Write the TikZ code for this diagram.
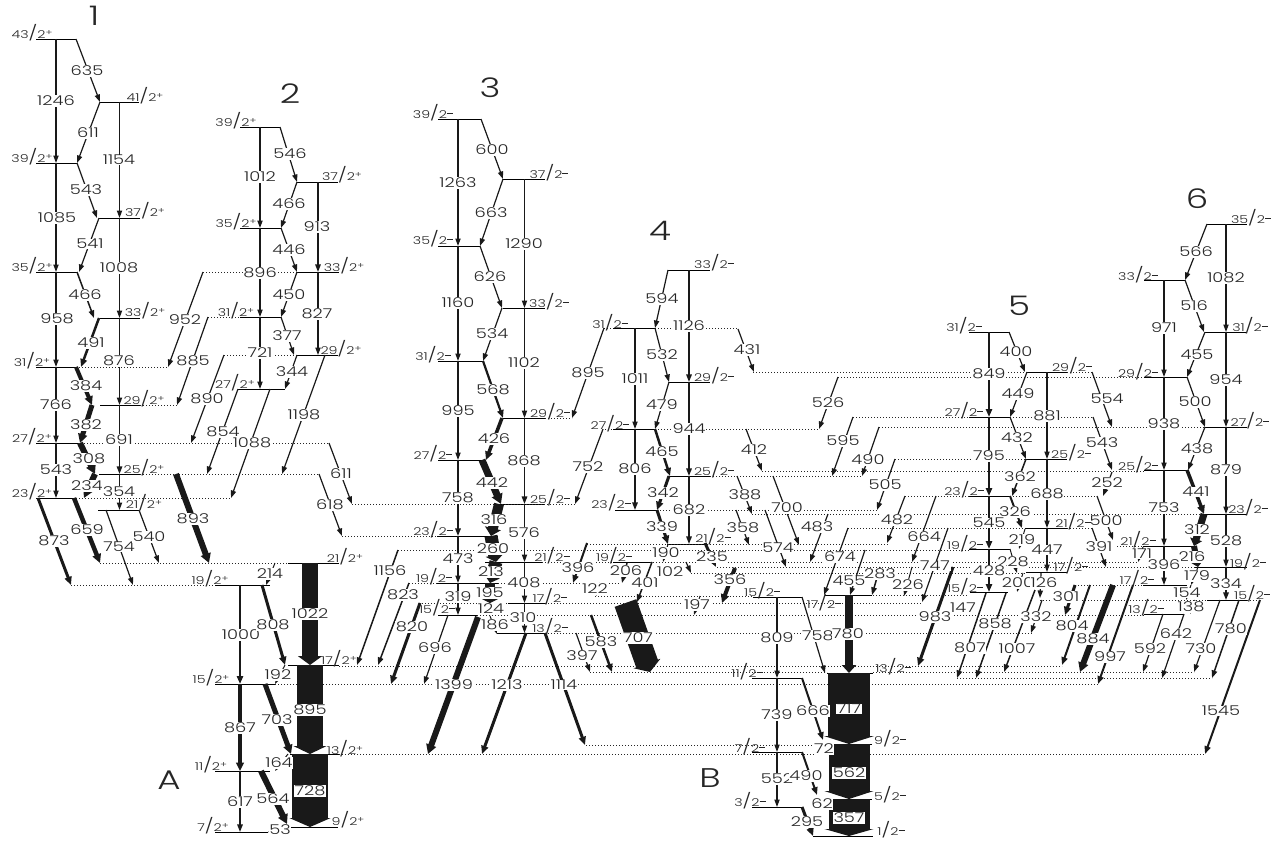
\documentclass[tikz,border=0pt]{standalone}
\usepackage{fontspec}
\setmainfont{Poppins}[UprightFont=* Light,FakeStretch=1.32]
\usetikzlibrary{arrows.meta,calc}
\newcounter{gc}\newcounter{lc}\newcounter{tc}
\tikzset{
 gamline/.style={draw=black!90,line cap=butt},
 glab/.style={fill=white,inner sep=0.6pt,font=\fontsize{13.5}{13.5}\selectfont,text=black!85},
 slab/.style={inner sep=0pt,font=\fontsize{10.8}{10.8}\selectfont,text=black!85},
 blab/.style={inner sep=0pt,font=\fontsize{27}{27}\selectfont,text=black!85},
 solidlvl/.style={draw=black,line width=0.9pt},
 dotlvl/.style={draw=black!85,line width=0.8pt,dash pattern=on 1.1pt off 1.9pt}
}
\makeatletter
\newcommand{\labelqueue}{}
\newcommand{\queuelabel}[2]{\g@addto@macro\labelqueue{\stepcounter{tc}\node[glab] (t\thetc) at #1 {#2};}}
\makeatother
% width, head length, head width, from, to, label, label position
\newcommand{\gamh}[7]{\stepcounter{gc}%
 \coordinate (g\thegc a) at #4; \coordinate (g\thegc b) at #5;
 \draw[gamline,line width=#1pt,-{Triangle[length=#2pt,width=#3pt]}] (g\thegc a) -- (g\thegc b);
 \queuelabel{#7}{#6}}
\newcommand{\gam}[5]{\pgfmathsetmacro{\hwd}{#1+4}\pgfmathsetmacro{\hln}{7+0.4*#1}\gamh{#1}{\hln}{\hwd}{#2}{#3}{#4}{#5}}
\newcommand{\lvlS}[3]{\stepcounter{lc}%
 \coordinate (l\thelc a) at (#1,#3); \coordinate (l\thelc b) at (#2,#3);
 \draw[solidlvl] (l\thelc a) -- (l\thelc b);}
\newcommand{\lvlD}[3]{\stepcounter{lc}%
 \coordinate (l\thelc a) at (#1,#3); \coordinate (l\thelc b) at (#2,#3);
 \draw[dotlvl] (l\thelc a) -- (l\thelc b);}
\newcommand{\spin}[3]{\stepcounter{lc}\node[slab] (s\thelc) at #1 {#2{\fontsize{15}{15}\selectfont/}2\raisebox{3.6pt}{\fontsize{8}{8}\selectfont #3}};}
\newcommand{\pl}{+}
\newcommand{\mn}{\rule[1.6pt]{6pt}{0.8pt}}
\begin{document}
\begin{tikzpicture}[x=1pt,y=-1pt]
\useasboundingbox[fill=white] (0,0) rectangle (1276,840);
% ---- solid levels
\lvlS{36}{76}{39}\lvlS{100}{139}{102}\lvlS{36}{77}{163}\lvlS{99}{140}{218}\lvlS{36}{77}{272}\lvlS{100}{140}{318}
\lvlS{36}{76}{367}\lvlS{100}{140}{405}\lvlS{36}{78}{443}\lvlS{99}{140}{474}\lvlS{36}{76}{498}\lvlS{98}{139}{510}
\lvlS{240}{280}{127}\lvlS{297}{338}{182}\lvlS{240}{281}{228}\lvlS{297}{339}{272}\lvlS{240}{281}{317}\lvlS{297}{338}{355}\lvlS{238}{285}{389}
\lvlS{288}{339}{563}\lvlS{215}{270}{585}\lvlS{288}{339}{665}\lvlS{215}{275}{684}\lvlS{290}{339}{754}\lvlS{215}{270}{771}\lvlS{290}{338}{827}\lvlS{215}{268}{832}
\lvlS{438}{481}{119}\lvlS{503}{545}{179}\lvlS{438}{480}{246}\lvlS{503}{545}{308}\lvlS{438}{483}{361}\lvlS{503}{545}{418}\lvlS{438}{482}{460}\lvlS{493}{545}{504}
\lvlS{437}{498}{536}\lvlS{485}{542}{562}\lvlS{437}{498}{583}\lvlS{508}{545}{603}\lvlS{438}{477}{615}\lvlS{497}{545}{633}
\lvlS{668}{710}{270}\lvlS{613}{655}{328}\lvlS{669}{710}{382}\lvlS{613}{655}{429}\lvlS{668}{710}{476}\lvlS{615}{657}{510}\lvlS{667}{705}{544}\lvlS{613}{650}{562}
\lvlS{753}{802}{597}\lvlS{825}{872}{595}\lvlS{827}{873}{673}\lvlS{752}{802}{678}\lvlS{830}{872}{744}\lvlS{752}{802}{752}\lvlS{830}{872}{799}\lvlS{752}{802}{807}\lvlS{813}{873}{836}
\lvlS{969}{1009}{332}\lvlS{1027}{1067}{372}\lvlS{969}{1010}{417}\lvlS{1026}{1067}{459}\lvlS{969}{1010}{496}\lvlS{1025}{1067}{528}\lvlS{969}{1010}{549}\lvlS{1026}{1067}{572}\lvlS{970}{1008}{592}
\lvlS{1207}{1247}{224}\lvlS{1144}{1185}{280}\lvlS{1205}{1246}{332}\lvlS{1144}{1187}{377}\lvlS{1205}{1247}{427}\lvlS{1144}{1187}{470}\lvlS{1205}{1247}{514}\lvlS{1143}{1197}{546}\lvlS{1195}{1247}{567}\lvlS{1143}{1187}{585}\lvlS{1207}{1247}{600}\lvlS{1144}{1184}{614}
% ---- dotted level extensions
\lvlD{76}{168}{367}\lvlD{140}{177}{405}\lvlD{78}{329}{443}\lvlD{140}{319}{474}\lvlD{76}{231}{498}
\lvlD{352}{575}{504}\lvlD{342}{437}{536}\lvlD{398}{970}{550}\lvlD{587}{888}{544}
\lvlD{542}{613}{562}\lvlD{650}{1138}{562}\lvlD{100}{288}{563}\lvlD{71}{215}{585}\lvlD{409}{437}{583}\lvlD{498}{620}{583}
\lvlD{595}{753}{596}\lvlD{419}{508}{603}\lvlD{545}{922}{603}\lvlD{477}{1144}{615}\lvlD{545}{1032}{633}
\lvlD{717}{1195}{567}\lvlD{691}{1026}{573}\lvlD{873}{968}{595}\lvlD{1040}{1207}{600}\lvlD{1247}{1260}{600}\lvlD{1075}{1143}{585}\lvlD{1117}{1143}{546}
\lvlD{848}{1025}{528}\lvlD{1067}{1092}{528}\lvlD{752}{1205}{514}\lvlD{657}{877}{510}\lvlD{905}{969}{496}\lvlD{1010}{1097}{496}
\lvlD{710}{862}{476}\lvlD{762}{1144}{471}\lvlD{895}{1027}{459}\lvlD{879}{1205}{427}\lvlD{853}{969}{417}\lvlD{1010}{1093}{417}
\lvlD{605}{613}{429}\lvlD{655}{820}{429}\lvlD{838}{1144}{377}\lvlD{753}{1027}{372}\lvlD{1067}{1092}{372}\lvlD{604}{613}{328}\lvlD{655}{738}{328}
\lvlD{545}{572}{418}\lvlD{203}{297}{272}\lvlD{208}{240}{317}\lvlD{224}{297}{355}
\lvlD{339}{1062}{666}\lvlD{275}{1098}{684}\lvlD{590}{827}{672}\lvlD{873}{1194}{672}\lvlD{957}{1212}{678}\lvlD{586}{830}{745}\lvlD{339}{1205}{754}
% ---- band 1
\gam{1.2}{(56,39)}{(56,163)}{1246}{(56,101)}
\gam{1.2}{(76,39)}{(100,102)}{635}{(87,71)}
\gam{1.2}{(100,102)}{(77,163)}{611}{(88,133)}
\gam{1.2}{(119.5,102)}{(119.5,218)}{1154}{(119,160)}
\gam{1.2}{(77,163)}{(97,218)}{543}{(86,190)}
\gam{1.2}{(56,163)}{(56,272)}{1085}{(57,218)}
\gam{1.2}{(119.5,218)}{(119.5,318)}{1008}{(119,268)}
\gam{1.2}{(99,218)}{(79,272)}{541}{(90,244)}
\gam{1.5}{(77,272)}{(94,318)}{466}{(85,295)}
\gam{1.2}{(56,272)}{(56,367)}{958}{(57,319)}
\gam{2.5}{(99,318)}{(81,367)}{491}{(91,343)}
\gam{1.2}{(119.5,318)}{(119.5,405)}{876}{(119,361)}
\gam{4}{(76,367)}{(92,405)}{384}{(86,386)}
\gam{1.2}{(56,367)}{(56,443)}{766}{(56,405)}
\gam{5}{(92,405)}{(80,443)}{382}{(86,425)}
\gam{1.5}{(119.5,405)}{(119.5,474)}{691}{(119,440)}
\gam{6}{(80,443)}{(95,474)}{308}{(89,459)}
\gam{6}{(95,474)}{(84,498)}{234}{(87,486)}
\gam{1.2}{(56,443)}{(56,498)}{543}{(56,470)}
\gam{1.2}{(119.5,474)}{(119.5,510)}{354}{(119,492)}
\gam{3}{(38,498)}{(71,585)}{873}{(54,541)}
\gam{4.5}{(74,498)}{(100,563)}{659}{(87,530)}
\gam{1.2}{(106,510)}{(133,585)}{754}{(119,547)}
\gam{1.2}{(139,510)}{(159,563)}{540}{(149,537)}
\gam{6}{(176,474)}{(209,563)}{893}{(193,519)}
% ---- band 2
\gam{1.2}{(260,127)}{(260,228)}{1012}{(260,177)}
\gam{1.2}{(280,127)}{(297,182)}{546}{(290,154)}
\gam{1.5}{(318,182)}{(318,272)}{913}{(317,227)}
\gam{1.2}{(297,182)}{(281,228)}{466}{(289,204)}
\gam{1.2}{(281,228)}{(297,272)}{446}{(289,250)}
\gam{1.2}{(260,228)}{(260,317)}{896}{(260,273)}
\gam{1.2}{(297,272)}{(281,317)}{450}{(289,295)}
\gam{1.2}{(318,272)}{(318,355)}{827}{(317,314)}
\gam{1.2}{(260,317)}{(260,389)}{721}{(260,353)}
\gam{1.2}{(281,317)}{(294,355)}{377}{(287,336)}
\gam{1.2}{(297,355)}{(285,389)}{344}{(292,372)}
\gam{1.2}{(203,272)}{(168,367)}{952}{(185,320)}
\gam{1.2}{(208,317)}{(177,405)}{885}{(193,361)}
\gam{1.2}{(224,355)}{(191,443)}{890}{(207,399)}
\gam{1.2}{(238,389)}{(207,474)}{854}{(223,432)}
\gam{1.2}{(270,389)}{(231,498)}{1088}{(252,443)}
\gam{1.2}{(325,355)}{(282,474)}{1198}{(304,415)}
\gam{1.2}{(329,443)}{(352,504)}{611}{(341,474)}
\gam{1.2}{(319,474)}{(342,536)}{618}{(330,505)}
% ---- band A
\gam{1}{(275,563)}{(266,585)}{214}{(270,574)}
\gam{2}{(240,585)}{(240,684)}{1000}{(241,635)}
\gam{3}{(262,585)}{(285,665)}{808}{(273,625)}
\gamh{16}{9}{24}{(310,563)}{(310,665)}{1022}{(310,614)}
\gamh{26}{8}{33}{(310,665)}{(310,754)}{895}{(310,710)}
\gamh{36}{9}{41}{(310,754)}{(310,827)}{728}{(310,791)}
\gam{1}{(285,665)}{(275,684)}{192}{(278,675)}
\gam{5}{(265,684)}{(291,754)}{703}{(277,720)}
\gam{3.5}{(240,684)}{(240,771)}{867}{(240,728)}
\gam{1}{(288,754)}{(275,771)}{164}{(279,763)}
\gam{1.5}{(240,771)}{(240,832)}{617}{(240,802)}
\gam{6}{(261,771)}{(287,824)}{564}{(273,799)}
\gam{1}{(290,827)}{(268,832)}{53}{(280,830)}
% ---- band 3
\gam{1.2}{(458,119)}{(458,246)}{1263}{(458,183)}
\gam{1.2}{(481,119)}{(503,179)}{600}{(492,150)}
\gam{1.2}{(524.5,179)}{(524.5,308)}{1290}{(524,244)}
\gam{1.2}{(503,179)}{(480,246)}{663}{(491,213)}
\gam{1.2}{(480,246)}{(502,308)}{626}{(490,277)}
\gam{1.2}{(458,246)}{(458,361)}{1160}{(458,303)}
\gam{1.2}{(502,308)}{(483,361)}{534}{(492,334)}
\gam{1.2}{(524.5,308)}{(524.5,418)}{1102}{(524,363)}
\gam{2.2}{(483,361)}{(503,418)}{568}{(493,390)}
\gam{1.2}{(458,361)}{(458,460)}{995}{(458,411)}
\gam{3.5}{(502,418)}{(486,460)}{426}{(494,439)}
\gam{1.5}{(524.5,418)}{(524.5,504)}{868}{(524,461)}
\gam{7}{(482,460)}{(501,504)}{442}{(492,483)}
\gam{1.5}{(458,460)}{(458,536)}{758}{(458,498)}
\gamh{10}{8}{16}{(499,504)}{(491,536)}{316}{(494,520)}
\gamh{13}{7}{18}{(491,536)}{(496,562)}{260}{(493,549)}
\gamh{13}{7}{16}{(496,562)}{(490,583)}{213}{(491,572)}
\gamh{10}{4}{16}{(490,583)}{(490,603)}{195}{(490,593)}
\gam{1}{(490,603)}{(480,615)}{124}{(491,609)}
\gam{1.2}{(458,536)}{(458,583)}{473}{(458,559)}
\gam{1.2}{(458,583)}{(458,615)}{319}{(458,597)}
\gam{1.2}{(524.5,504)}{(524.5,562)}{576}{(524,533)}
\gam{1.2}{(524.5,562)}{(524.5,603)}{408}{(524,583)}
\gam{1.2}{(524.5,603)}{(524.5,633)}{310}{(523,618)}
\gam{1}{(490,616)}{(497,634)}{186}{(495,625)}
\gam{3}{(526,633)}{(482,754)}{1213}{(507,685)}
\gam{3}{(545,633)}{(585,745)}{1114}{(564,685)}
\gam{6}{(478,617)}{(428,754)}{1399}{(454,685)}
\gam{1.2}{(448,615)}{(424,684)}{696}{(435,648)}
\gam{3}{(420,603)}{(391,684)}{820}{(412,627)}
\gam{1.5}{(409,583)}{(378,665)}{823}{(403,595)}
\gam{1.5}{(398,550)}{(357,665)}{1156}{(390,571)}
\gam{2.5}{(591,615)}{(612,672)}{583}{(601,642)}
\gam{1.2}{(576,633)}{(590,672)}{397}{(582,656)}
\gamh{23}{9}{28}{(625.5,603)}{(650,672)}{707}{(638,638)}
\gam{1.5}{(652,562)}{(637,602)}{401}{(645,583)}
\gam{1.5}{(627,563)}{(622,583)}{206}{(626,571)}
\gam{2}{(587,543)}{(573,583)}{396}{(578,568)}
\gam{1}{(600,583)}{(596,596)}{122}{(595,589)}
% ---- band 4
\gam{1.2}{(668,270)}{(655,328)}{594}{(662,299)}
\gam{1.5}{(689,270)}{(689,382)}{1126}{(689,326)}
\gam{1.2}{(604,328)}{(572,418)}{895}{(588,373)}
\gam{1.2}{(635,328)}{(635,429)}{1011}{(635,379)}
\gam{1.2}{(655,328)}{(669,382)}{532}{(662,355)}
\gam{1.5}{(689,382)}{(689,476)}{944}{(689,429)}
\gam{1.2}{(669,382)}{(655,429)}{479}{(662,405)}
\gam{1.2}{(603,429)}{(575,504)}{752}{(588,467)}
\gam{1.5}{(635,429)}{(635,510)}{806}{(635,469)}
\gam{2.5}{(655,429)}{(670,476)}{465}{(662,452)}
\gam{3}{(669,476)}{(657,510)}{342}{(663,493)}
\gam{1.5}{(689,476)}{(689,544)}{682}{(689,510)}
\gam{3}{(657,510)}{(668,544)}{339}{(662,527)}
\gam{1}{(668,544)}{(663,562)}{190}{(666,553)}
\gam{1.2}{(686,562)}{(691,573)}{102}{(670,572)}
\gam{3}{(705,543)}{(716,567)}{235}{(712,557)}
\gam{4}{(735,568)}{(722,603)}{356}{(730,580)}
\gam{1}{(700,596)}{(694,615)}{197}{(697,605)}
\gam{1.2}{(738,329)}{(754,372)}{431}{(747,350)}
\gam{1.2}{(746,429)}{(762,471)}{412}{(754,450)}
\gam{1.2}{(838,377)}{(819,429)}{526}{(828,403)}
\gam{1.2}{(853,417)}{(832,476)}{595}{(843,441)}
\gam{1.2}{(879,427)}{(862,476)}{490}{(868,460)}
\gam{1.2}{(895,459)}{(877,510)}{505}{(885,485)}
\gam{1.2}{(737,476)}{(752,514)}{388}{(745,495)}
\gam{1.2}{(736,510)}{(749,545)}{358}{(743,528)}
\gam{1.2}{(765,510)}{(786,567)}{574}{(778,548)}
\gam{1.2}{(773,476)}{(799,545)}{700}{(787,508)}
\gam{1.2}{(828,514)}{(810,562)}{483}{(817,527)}
\gam{1.2}{(905,496)}{(887,543)}{482}{(897,520)}
\gam{1.2}{(936,496)}{(912,562)}{664}{(924,537)}
\gam{1.2}{(948,528)}{(922,602)}{747}{(935,566)}
\gam{1.2}{(848,528)}{(824,595)}{674}{(840,557)}
\gam{1.2}{(865,550)}{(850,595)}{455}{(849,581)}
\gam{1.5}{(880,567)}{(872,595)}{283}{(880,574)}
\gam{1}{(912,567)}{(904,596)}{226}{(908,585)}
\gam{3}{(953,567)}{(918,666)}{983}{(935,617)}
% ---- band B
\gam{1.2}{(777,597)}{(777,678)}{809}{(777,638)}
\gam{1.2}{(802,597)}{(825,673)}{758}{(818,636)}
\gamh{8}{8}{14}{(849,595)}{(849,673)}{780}{(848,634)}
\gamh{42}{8}{50}{(849,673)}{(849,744)}{717}{(849,709)}
\gamh{41}{8}{49}{(849,744)}{(849,799)}{562}{(849,773)}
\gamh{41}{7}{49}{(849,799)}{(849,836)}{357}{(849,818)}
\gam{2}{(802,678)}{(823,740)}{666}{(813,711)}
\gam{1.2}{(777,678)}{(777,752)}{739}{(777,715)}
\gam{1}{(830,744)}{(815,753)}{72}{(824,749)}
\gam{1.2}{(777,752)}{(777,807)}{552}{(777,779)}
\gam{2}{(802,752)}{(817,795)}{490}{(806,776)}
\gam{1}{(830,799)}{(815,808)}{62}{(822,804)}
\gam{3}{(802,807)}{(813,836)}{295}{(807,822)}
% ---- band 5
\gam{2}{(989,332)}{(989,417)}{849}{(989,374)}
\gam{1.2}{(1009,332)}{(1025,372)}{400}{(1016,352)}
\gam{1.2}{(1047,372)}{(1047,459)}{881}{(1047,416)}
\gam{1.2}{(1027,372)}{(1010,417)}{449}{(1018,394)}
\gam{1.2}{(1010,417)}{(1026,459)}{432}{(1017,438)}
\gam{2}{(989,417)}{(989,496)}{795}{(989,456)}
\gam{1.2}{(1092,372)}{(1112,427)}{554}{(1107,399)}
\gam{1.2}{(1093,417)}{(1112,470)}{543}{(1102,443)}
\gam{1.2}{(1112,472)}{(1103,496)}{252}{(1107,483)}
\gam{1.2}{(1097,496)}{(1113,540)}{500}{(1106,521)}
\gam{1.5}{(1026,459)}{(1012,496)}{362}{(1020,477)}
\gam{1.2}{(1047,459)}{(1047,528)}{688}{(1047,494)}
\gam{2}{(1010,496)}{(1022,528)}{326}{(1015,512)}
\gam{2}{(989,496)}{(989,549)}{545}{(989,523)}
\gam{1.2}{(1047,528)}{(1047,572)}{447}{(1047,550)}
\gam{1}{(1025,529)}{(1019,549)}{219}{(1022,540)}
\gam{1}{(1010,549)}{(1017,573)}{228}{(1013,562)}
\gam{1.2}{(1092,528)}{(1106,567)}{391}{(1099,547)}
\gam{2}{(989,549)}{(989,592)}{428}{(989,571)}
\gam{1}{(1023,573)}{(1017,592)}{200}{(1018,583)}
\gam{1.2}{(1041,573)}{(1040,598)}{126}{(1044,583)}
\gam{3}{(1075,585)}{(1065,615)}{301}{(1066,597)}
\gam{1.2}{(1042,600)}{(1031,633)}{332}{(1036,617)}
\gam{1.5}{(986,593)}{(957,678)}{807}{(970,648)}
\gam{1.5}{(1006,593)}{(976,678)}{858}{(995,624)}
\gam{1.5}{(1035,590)}{(1004,672)}{1007}{(1017,649)}
\gam{2}{(1090,585)}{(1062,665)}{804}{(1072,626)}
\gam{6}{(1113,585)}{(1080,672)}{884}{(1093,639)}
\gam{2}{(1133,585)}{(1098,684)}{997}{(1110,657)}
\queuelabel{(963,608)}{147}
% ---- band 6
\gam{1.2}{(1207,224)}{(1185,280)}{566}{(1196,252)}
\gam{1.2}{(1226,224)}{(1226,332)}{1082}{(1226,278)}
\gam{1.2}{(1164,280)}{(1164,377)}{971}{(1164,328)}
\gam{1.2}{(1185,280)}{(1204,332)}{516}{(1194,306)}
\gam{1.2}{(1205,332)}{(1187,377)}{455}{(1197,355)}
\gam{1.2}{(1226,332)}{(1226,427)}{954}{(1226,380)}
\gam{1.2}{(1187,377)}{(1205,427)}{500}{(1195,402)}
\gam{1.2}{(1164,377)}{(1164,470)}{938}{(1164,424)}
\gam{1.2}{(1226,427)}{(1226,514)}{879}{(1226,470)}
\gam{1.2}{(1205,427)}{(1188,470)}{438}{(1197,449)}
\gam{3.5}{(1187,470)}{(1204,514)}{441}{(1196,492)}
\gam{1.2}{(1164,470)}{(1164,546)}{753}{(1164,508)}
\gam{1.2}{(1226,514)}{(1226,567)}{528}{(1226,541)}
\gamh{7}{7}{12}{(1204,514)}{(1194,546)}{312}{(1197,530)}
\gamh{6}{5}{11}{(1194,546)}{(1198,567)}{216}{(1192,557)}
\gam{1.2}{(1164,546)}{(1164,585)}{396}{(1164,565)}
\gam{1}{(1143,547)}{(1138,562)}{171}{(1142,554)}
\gam{1.5}{(1226,567)}{(1226,600)}{334}{(1226,584)}
\gam{1}{(1198,567)}{(1191,585)}{179}{(1197,576)}
\gam{1}{(1191,585)}{(1186,600)}{154}{(1187,593)}
\gam{1}{(1195,600)}{(1190,614)}{138}{(1191,607)}
\gam{1.2}{(1163,614)}{(1143,672)}{592}{(1150,649)}
\gam{1.2}{(1184,614)}{(1162,678)}{642}{(1176,634)}
\gam{1.2}{(1220,600)}{(1194,672)}{730}{(1201,649)}
\gam{1.5}{(1239,600)}{(1212,678)}{780}{(1231,629)}
\gam{2}{(1260,600)}{(1205,754)}{1545}{(1221,711)}
\labelqueue
% ---- spin labels
\spin{(32,33)}{43}{\pl}\spin{(145,96)}{41}{\pl}\spin{(32,157)}{39}{\pl}\spin{(145,211)}{37}{\pl}\spin{(32,266)}{35}{\pl}\spin{(145,311)}{33}{\pl}
\spin{(32,361)}{31}{\pl}\spin{(144,399)}{29}{\pl}\spin{(32,437)}{27}{\pl}\spin{(144,468)}{25}{\pl}\spin{(32,492)}{23}{\pl}\spin{(144,503)}{21}{\pl}
\spin{(236,121)}{39}{\pl}\spin{(342,175)}{37}{\pl}\spin{(236,222)}{35}{\pl}\spin{(344,266)}{33}{\pl}\spin{(236,311)}{31}{\pl}\spin{(341,349)}{29}{\pl}\spin{(235,383)}{27}{\pl}
\spin{(345,557)}{21}{\pl}\spin{(210,579)}{19}{\pl}\spin{(339,659)}{17}{\pl}\spin{(211,678)}{15}{\pl}\spin{(345,749)}{13}{\pl}\spin{(211,765)}{11}{\pl}\spin{(348,820)}{9}{\pl}\spin{(213,826)}{7}{\pl}
\spin{(433,113)}{39}{\mn}\spin{(549,173)}{37}{\mn}\spin{(433,239)}{35}{\mn}\spin{(549,302)}{33}{\mn}\spin{(433,355)}{31}{\mn}\spin{(550,412)}{29}{\mn}\spin{(433,454)}{27}{\mn}\spin{(550,498)}{25}{\mn}
\spin{(433,530)}{23}{\mn}\spin{(552,556)}{21}{\mn}\spin{(434,577)}{19}{\mn}\spin{(550,597)}{17}{\mn}\spin{(437,608)}{15}{\mn}\spin{(550,627)}{13}{\mn}
\spin{(714,263)}{33}{\mn}\spin{(610,323)}{31}{\mn}\spin{(714,376)}{29}{\mn}\spin{(610,424)}{27}{\mn}\spin{(714,470)}{25}{\mn}\spin{(611,503)}{23}{\mn}\spin{(713,537)}{21}{\mn}\spin{(614,556)}{19}{\mn}
\spin{(762,591)}{15}{\mn}\spin{(824,603)}{17}{\mn}\spin{(893,667)}{13}{\mn}\spin{(747,672)}{11}{\mn}\spin{(890,739)}{9}{\mn}\spin{(750,747)}{7}{\mn}\spin{(890,795)}{5}{\mn}\spin{(750,801)}{3}{\mn}\spin{(891,830)}{1}{\mn}
\spin{(964,326)}{31}{\mn}\spin{(1072,366)}{29}{\mn}\spin{(964,411)}{27}{\mn}\spin{(1071,453)}{25}{\mn}\spin{(964,490)}{23}{\mn}\spin{(1073,522)}{21}{\mn}\spin{(965,544)}{19}{\mn}\spin{(1071,566)}{17}{\mn}\spin{(965,587)}{15}{\mn}
\spin{(1251,218)}{35}{\mn}\spin{(1138,275)}{33}{\mn}\spin{(1250,326)}{31}{\mn}\spin{(1138,372)}{29}{\mn}\spin{(1250,421)}{27}{\mn}\spin{(1138,465)}{25}{\mn}\spin{(1248,508)}{23}{\mn}\spin{(1138,540)}{21}{\mn}\spin{(1248,562)}{19}{\mn}\spin{(1137,579)}{17}{\mn}\spin{(1252,594)}{15}{\mn}\spin{(1146,608)}{13}{\mn}
% ---- big labels
\node[blab] (b1) at (94,16) {1};
\node[blab] (b2) at (290,94) {2};
\node[blab] (b3) at (490,88) {3};
\node[blab] (b4) at (660,231) {4};
\node[blab] (b5) at (1019,306) {5};
\node[blab] (b6) at (1197,199) {6};
\node[blab] (bA) at (169,780) {A};
\node[blab] (bB) at (710,778) {B};
\end{tikzpicture}
\end{document}
